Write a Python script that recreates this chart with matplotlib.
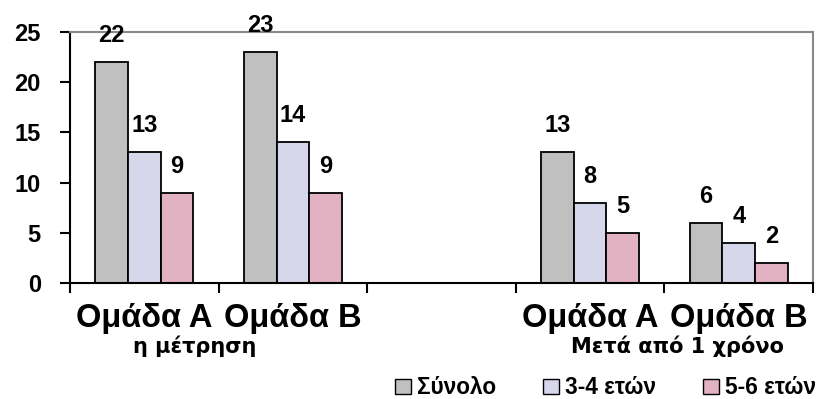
import numpy as np
import matplotlib.pyplot as plt
from matplotlib.patches import Patch

plt.rcParams["font.family"] = ["Liberation Sans", "DejaVu Sans"]
plt.rcParams["font.weight"] = "bold"

# slots on the category axis (the middle one stays empty as a spacer)
groups = ["Ομάδα Α", "Ομάδα Β", "", "Ομάδα Α", "Ομάδα Β"]
series = ["Σύνολο", "3-4 ετών", "5-6 ετών"]
total = [22, 23, None, 13, 6]
age_3_4 = [13, 14, None, 8, 4]
age_5_6 = [9, 9, None, 5, 2]
period_labels = ["η μέτρηση", "Μετά από 1 χρόνο"]
yticks = [0, 5, 10, 15, 20, 25]

colors = ["#C0C0C0", "#D7D7EB", "#E3B2C2"]

W, H = 823, 399
fig = plt.figure(figsize=(W / 100, H / 100), dpi=100)
ax = fig.add_axes([70 / W, (H - 283) / H, (813 - 70) / W, (283 - 32) / H])

bar_w = 0.22
centers = np.arange(len(groups)) + 0.5
for k, (vals, col) in enumerate(zip([total, age_3_4, age_5_6], colors)):
    for c, v in zip(centers, vals):
        if v is None:
            continue
        x = c + (k - 1) * bar_w
        ax.bar(x, v, width=bar_w, color=col, edgecolor="black", linewidth=1.3)
        ax.annotate(str(v), (x, v), xytext=(0, 14.5), textcoords="offset points",
                    ha="center", va="baseline", fontsize=17, fontweight="bold")

ax.set_xlim(0, len(groups))
ax.set_ylim(0, 25)
ax.set_yticks(yticks)
ax.set_yticklabels([str(t) for t in yticks], fontsize=17, fontweight="bold")
ax.set_xticks(np.arange(len(groups) + 1))
ax.set_xticklabels([])
ax.tick_params(axis="y", direction="out", length=7, width=1.5, pad=14)
ax.tick_params(axis="x", direction="out", length=7, width=1.5)

for side in ["left", "bottom"]:
    ax.spines[side].set_linewidth(1.5)
    ax.spines[side].set_color("black")
for side in ["top", "right"]:
    ax.spines[side].set_linewidth(1.5)
    ax.spines[side].set_color("#888888")

trans = ax.get_xaxis_transform()
for c, g in zip(centers, groups):
    if g:
        ax.text(c, -0.175, g, transform=trans, ha="center", va="baseline",
                fontsize=23.5, fontweight="bold")
sub_font = ["DejaVu Sans", "Liberation Sans"]
ax.text(0.84, -0.279, period_labels[0], transform=trans, ha="center", va="baseline",
        fontsize=15, fontweight="bold", family=sub_font)
ax.text(4.09, -0.279, period_labels[1], transform=trans, ha="center", va="baseline",
        fontsize=15, fontweight="bold", family=sub_font)

handles = [Patch(facecolor=c, edgecolor="black", linewidth=1.0) for c in colors]
fig.legend(handles, series, loc="center right", bbox_to_anchor=(816 / W, 1 - 388 / H),
           ncol=3, frameon=False, prop={"size": 16.3, "weight": "bold"},
           handlelength=0.68, handleheight=0.68, handletextpad=0.27,
           columnspacing=2.1, borderaxespad=0, borderpad=0)

fig.savefig("out.png", dpi=100)
